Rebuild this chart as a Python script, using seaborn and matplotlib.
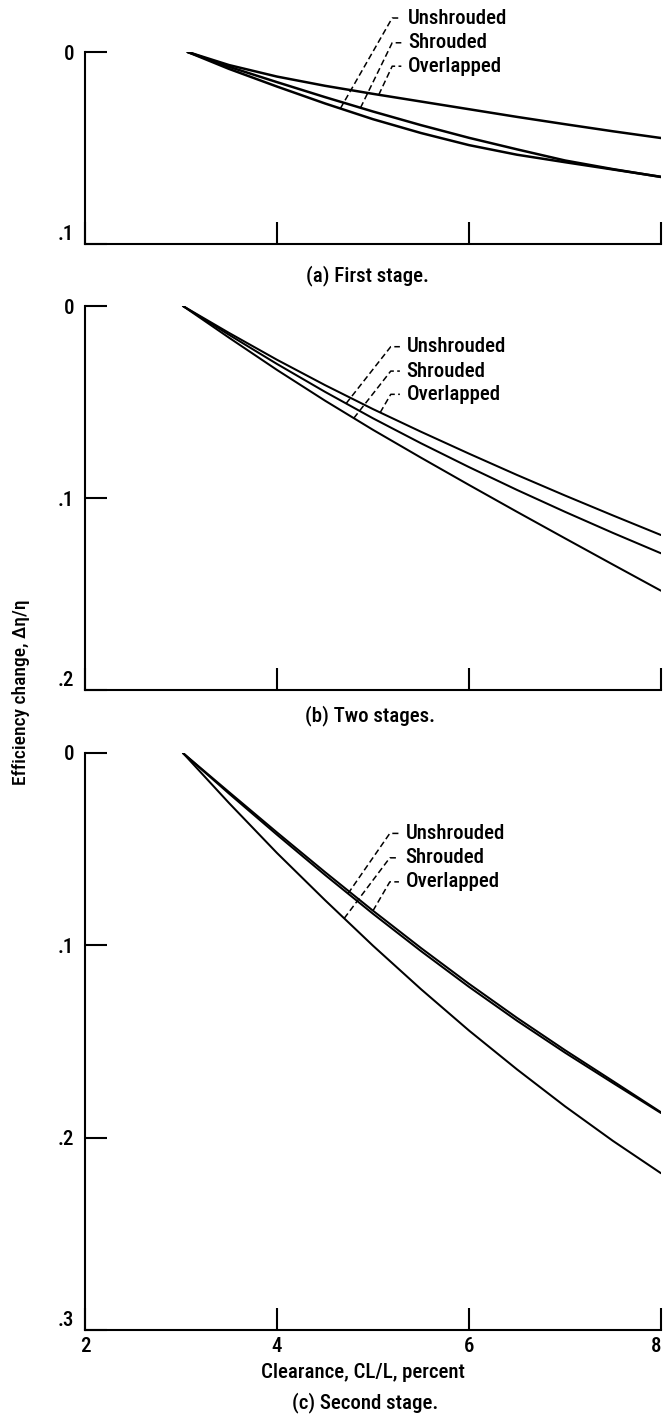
import numpy as np
import matplotlib
matplotlib.use("Agg")
import matplotlib.pyplot as plt
import matplotlib.font_manager as fm
import seaborn as sns

# ---------------- data ----------------
series_names = ["Unshrouded", "Shrouded", "Overlapped"]

# (a) First stage
x_a = [3.07, 3.5, 4.0, 4.5, 5.0, 5.5, 6.0, 6.5, 7.0, 7.5, 8.0]
a_unshrouded = [0, 0.0088, 0.0180, 0.0268, 0.0350, 0.0422, 0.0485, 0.0535, 0.0574, 0.0612, 0.0650]
a_shrouded   = [0, 0.0077, 0.0157, 0.0235, 0.0310, 0.0381, 0.0447, 0.0507, 0.0565, 0.0610, 0.0651]
a_overlapped = [0, 0.0068, 0.0128, 0.0176, 0.0218, 0.0258, 0.0298, 0.0338, 0.0376, 0.0413, 0.0448]

# (b) Two stages
x_b = [3.02, 3.5, 4.0, 4.5, 5.0, 5.5, 6.0, 6.5, 7.0, 7.5, 8.0]
b_unshrouded = [0, 0.0150, 0.0302, 0.0447, 0.0585, 0.0715, 0.0839, 0.0958, 0.1072, 0.1182, 0.1288]
b_shrouded   = [0, 0.0165, 0.0333, 0.0493, 0.0645, 0.0790, 0.0932, 0.1072, 0.1210, 0.1347, 0.1483]
b_overlapped = [0, 0.0140, 0.0280, 0.0412, 0.0537, 0.0655, 0.0769, 0.0880, 0.0987, 0.1091, 0.1193]

# (c) Second stage
x_c = [3.02, 3.5, 4.0, 4.5, 5.0, 5.5, 6.0, 6.5, 7.0, 7.5, 8.0]
c_unshrouded = [0, 0.0211, 0.0425, 0.0634, 0.0836, 0.1030, 0.1216, 0.1392, 0.1558, 0.1716, 0.1872]
c_shrouded   = [0, 0.0260, 0.0520, 0.0765, 0.1002, 0.1228, 0.1443, 0.1645, 0.1837, 0.2017, 0.2185]
c_overlapped = [0, 0.0203, 0.0413, 0.0619, 0.0820, 0.1014, 0.1200, 0.1377, 0.1545, 0.1706, 0.1868]

x_ticks = [2, 4, 6, 8]
x_ticklabels = ["2", "4", "6", "8"]
y_ticks_a, y_labels_a = [0, 0.1], ["0", ".1"]
y_ticks_b, y_labels_b = [0, 0.1, 0.2], ["0", ".1", ".2"]
y_ticks_c, y_labels_c = [0, 0.1, 0.2, 0.3], ["0", ".1", ".2", ".3"]

captions = ["(a) First stage.", "(b) Two stages.", "(c) Second stage."]
x_title = "Clearance, CL/L, percent"
y_title = "Efficiency change, \u0394\u03b7/\u03b7"

# ---------------- font: prefer a condensed sans ----------------
sns.set_theme(style="ticks")

ttf = fm.fontManager.ttflist
names = {f.name for f in ttf}
chosen, stretch = None, "normal"
for cand in ["Liberation Sans Narrow", "Roboto Condensed", "DejaVu Sans Condensed",
             "Noto Sans Condensed", "Open Sans Condensed", "Arial Narrow",
             "Nimbus Sans Narrow", "Ubuntu Condensed"]:
    if cand in names:
        chosen = cand
        break
if chosen is None:
    for f in ttf:
        st = str(f.stretch)
        if st in ("condensed", "semi-condensed") and f.style == "normal" and \
                f.weight in (400, 500, "normal", "regular", "medium"):
            chosen, stretch = f.name, st
            break
if chosen is None:
    chosen = "Liberation Sans" if "Liberation Sans" in names else "DejaVu Sans"
    FS = 13.0
else:
    FS = 15.0

plt.rcParams["font.family"] = [chosen, "DejaVu Sans"]
plt.rcParams["font.stretch"] = stretch
plt.rcParams["font.weight"] = 500
plt.rcParams["text.color"] = "black"
plt.rcParams["axes.edgecolor"] = "black"

W, H = 663, 1417
fig = plt.figure(figsize=(W / 100, H / 100), dpi=100)
fig.patch.set_facecolor("white")


def add_ax(top, bottom, left=85, right=661):
    return fig.add_axes([left / W, 1 - bottom / H, (right - left) / W, (bottom - top) / H])


panels = [
    dict(top=52, bottom=244, x=x_a, ys=[a_unshrouded, a_shrouded, a_overlapped],
         ymax=0.1, yt=y_ticks_a, yl=y_labels_a, lw=1.8,
         lab_x=5.365, lab_y=[-0.0177, -0.0048, 0.0074], end_x=[4.66, 4.87, 5.06],
         cap=(367, 276)),
    dict(top=306, bottom=690, x=x_b, ys=[b_unshrouded, b_shrouded, b_overlapped],
         ymax=0.2, yt=y_ticks_b, yl=y_labels_b, lw=1.45,
         lab_x=5.35, lab_y=[0.0212, 0.0339, 0.0460], end_x=[4.72, 4.80, 5.075],
         cap=(370, 716)),
    dict(top=753, bottom=1330, x=x_c, ys=[c_unshrouded, c_shrouded, c_overlapped],
         ymax=0.3, yt=y_ticks_c, yl=y_labels_c, lw=1.45,
         lab_x=5.34, lab_y=[0.0418, 0.0545, 0.0670], end_x=[4.74, 4.70, 5.00],
         cap=(365, 1403)),
]

for i, p in enumerate(panels):
    ax = add_ax(p["top"], p["bottom"])
    ax.set_facecolor("white")
    for name, y in zip(series_names, p["ys"]):
        sns.lineplot(x=p["x"], y=y, ax=ax, color="black", lw=p["lw"],
                     estimator=None, sort=False, legend=False)
    ax.set_xlim(2, 8)
    ax.set_ylim(p["ymax"], 0)
    sns.despine(ax=ax)
    for s in ["left", "bottom"]:
        ax.spines[s].set_linewidth(1.5)
        ax.spines[s].set_color("black")
    ax.set_xticks(x_ticks)
    if i == 2:
        ax.set_xticklabels(x_ticklabels)
        ax.get_xticklabels()[-1].set_horizontalalignment("right")
    else:
        ax.set_xticklabels([])
    ax.set_yticks(p["yt"])
    ax.set_yticklabels(p["yl"])
    ax.tick_params(axis="both", direction="in", length=16, width=1.5, color="black",
                   labelsize=FS, labelcolor="black", bottom=True, left=True)
    ax.tick_params(axis="y", pad=8)
    ax.tick_params(axis="x", pad=5)
    ax.get_yticklabels()[-1].set_verticalalignment("bottom")
    ax.set_xlabel("")
    ax.set_ylabel("")

    # labels with dashed leader lines
    for name, y, ly, ex in zip(series_names, p["ys"], p["lab_y"], p["end_x"]):
        ey = float(np.interp(ex, p["x"], y))
        corner_x = p["lab_x"] - 0.165
        hend_x = p["lab_x"] - 0.07
        ax.plot([ex, corner_x, hend_x], [ey, ly, ly], color="black", lw=1.1,
                linestyle=(0, (4.0, 2.2)), clip_on=False)
        ax.text(p["lab_x"], ly, name, fontsize=FS, ha="left", va="center",
                clip_on=False)

    cx, cy = p["cap"]
    fig.text(cx / W, 1 - cy / H, captions[i], fontsize=FS, ha="center", va="center")

fig.text(363 / W, 1 - 1372 / H, x_title, fontsize=FS, ha="center", va="center")
fig.text(21 / W, 1 - 692 / H, y_title, fontsize=FS - 1.0, ha="center", va="center",
         rotation=90)

fig.savefig("out.png", dpi=100, facecolor="white")
